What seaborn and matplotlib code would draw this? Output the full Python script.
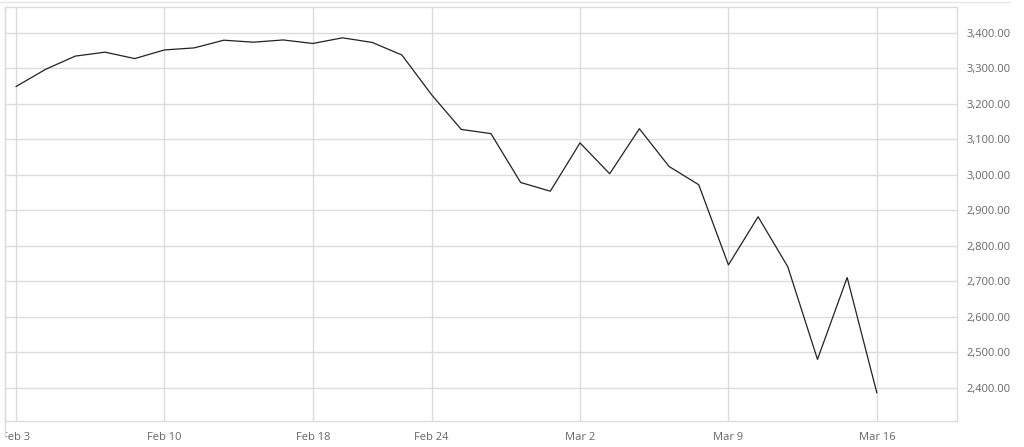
import matplotlib
matplotlib.use("Agg")
import matplotlib.pyplot as plt
import matplotlib.ticker as mticker
from matplotlib.lines import Line2D
from matplotlib.transforms import Bbox, TransformedBbox
import numpy as np
import pandas as pd
import seaborn as sns

# S&P 500 daily closes, trading days only
dates = ["Feb 3", "Feb 4", "Feb 5", "Feb 6", "Feb 7",
         "Feb 10", "Feb 11", "Feb 12", "Feb 13", "Feb 14",
         "Feb 18", "Feb 19", "Feb 20", "Feb 21",
         "Feb 24", "Feb 25", "Feb 26", "Feb 27", "Feb 28",
         "Mar 2", "Mar 3", "Mar 4", "Mar 5", "Mar 6",
         "Mar 9", "Mar 10", "Mar 11", "Mar 12", "Mar 13",
         "Mar 16"]
closes = [3248.9, 3297.6, 3334.7, 3345.8, 3327.7,
          3352.1, 3357.8, 3379.5, 3373.9, 3380.2,
          3370.3, 3386.2, 3373.2, 3337.8,
          3225.9, 3128.2, 3116.4, 2978.8, 2954.2,
          3090.2, 3003.4, 3130.1, 3023.9, 2972.4,
          2746.6, 2882.2, 2741.4, 2480.6, 2711.0,
          2386.1]
tick_labels = ["Feb 3", "Feb 10", "Feb 18", "Feb 24", "Mar 2", "Mar 9", "Mar 16"]
y_ticks = [2400, 2500, 2600, 2700, 2800, 2900, 3000, 3100, 3200, 3300, 3400]

df = pd.DataFrame({"day": np.arange(len(dates)), "date": dates, "close": closes})

sns.set_style("white")
plt.rcParams["font.family"] = ["Open Sans", "DejaVu Sans"]

fig = plt.figure(figsize=(10.24, 4.47), dpi=100)
ax = fig.add_axes([5 / 1024, 1 - 421 / 447, 952 / 1024, 414 / 447])

sns.lineplot(data=df, x="day", y="close", ax=ax, color="#222222", linewidth=0.9)

grid_c = "#dcdcdc"
xt = [dates.index(t) for t in tick_labels]
ax.set_xticks(xt)
ax.set_xticklabels(tick_labels)
ax.set_yticks(y_ticks)
ax.yaxis.set_major_formatter(mticker.StrMethodFormatter("{x:,.2f}"))
ax.yaxis.tick_right()

ax.set_xlim(-0.37, 31.7)
ax.set_ylim(2307, 3473)
ax.grid(True, color=grid_c, linewidth=1.0)
ax.set_axisbelow(True)
ax.set_xlabel("")
ax.set_ylabel("")

for s in ax.spines.values():
    s.set_color(grid_c)
    s.set_linewidth(1.0)

ax.tick_params(axis="x", length=4, color=grid_c, labelsize=8, labelcolor="#666666", pad=4)
ax.tick_params(axis="y", length=0, labelsize=8, labelcolor="#666666", pad=7)
for lab in ax.get_yticklabels():
    lab.set_horizontalalignment("left")

# first x label is cut off by the chart container's left edge
clip = TransformedBbox(Bbox([[5 / 1024, 0], [1, 1]]), fig.transFigure)
first = ax.get_xticklabels()[0]
first.set_clip_on(True)
first.set_clip_box(clip)

# container borders
fig.add_artist(Line2D([0, 1010 / 1024], [1 - 2 / 447, 1 - 2 / 447], color="#e6e6e6", linewidth=1.0))
fig.add_artist(Line2D([5 / 1024, 5 / 1024], [1 - 437 / 447, 1 - 7 / 447], color=grid_c, linewidth=1.0))

fig.savefig("out.png", dpi=100)
